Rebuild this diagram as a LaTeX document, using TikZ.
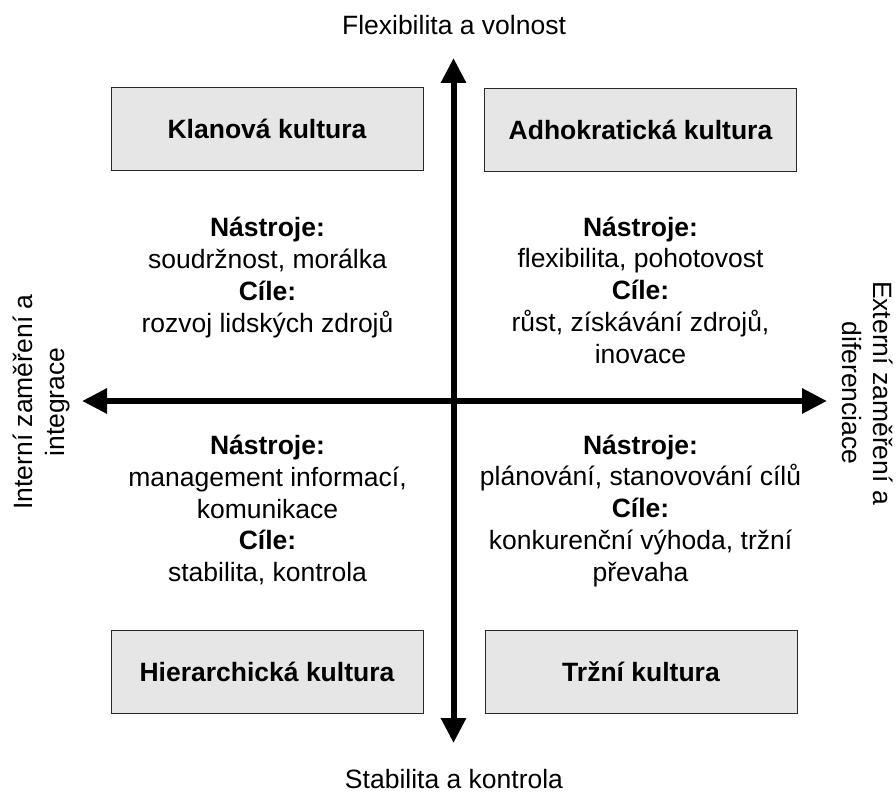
\documentclass[tikz,border=0pt]{standalone}
\usepackage{fontspec}
\setmainfont{Liberation Sans}
\usetikzlibrary{arrows.meta}
\definecolor{boxfill}{RGB}{230,230,230}
\definecolor{boxline}{RGB}{40,40,40}
\begin{document}
\begin{tikzpicture}[x=1pt,y=-1pt,
  every node/.style={inner sep=0pt, outer sep=0pt},
  % anchor=base sits on the baseline of the last line of a multi-line text
  txt/.style={font=\fontsize{26.5}{31.7}\selectfont, align=center, anchor=base},
  culture/.style={draw=boxline, line width=1pt, fill=boxfill, minimum width=312pt,
    minimum height=83pt, text height=19pt, text depth=0pt,
    font=\fontsize{26.5}{31.7}\selectfont\bfseries},
  axis/.style={line width=6pt, {Triangle[length=25pt,width=24pt]}-{Triangle[length=25pt,width=24pt]}}]
\useasboundingbox (0,0) rectangle (896,794);

% axes
\coordinate (top) at (453.5,58);
\coordinate (bottom) at (453.5,743);
\coordinate (left) at (82,401);
\coordinate (right) at (827,401);
\draw[axis] (bottom) -- (top);
\draw[axis] (left) -- (right);

% axis labels
\node[txt] (flex) at (454,35) {Flexibilita a volnost};
\node[txt] (stab) at (454,788) {Stabilita a kontrola};
\node[txt, rotate=90] (intern) at (64,402) {Interní zaměření a\\integrace};
\node[txt, rotate=-90] (extern) at (842,393) {Externí zaměření a\\diferenciace};

% culture boxes
\node[culture] (clan) at (267,129.5) {Klanová kultura};
\node[culture] (adhoc) at (640.5,130) {Adhokratická kultura};
\node[culture] (hier) at (267,672) {Hierarchická kultura};
\node[culture] (market) at (641,672) {Tržní kultura};

% quadrant descriptions
\node[txt] (clantxt) at (267.5,332)
  {\textbf{Nástroje:}\\soudržnost, morálka\\\textbf{Cíle:}\\rozvoj lidských zdrojů};
\node[txt] (adhoctxt) at (640.5,363)
  {\textbf{Nástroje:}\\flexibilita, pohotovost\\\textbf{Cíle:}\\růst, získávání zdrojů,\\inovace};
\node[txt] (hiertxt) at (267.5,581.5)
  {\textbf{Nástroje:}\\management informací,\\komunikace\\\textbf{Cíle:}\\stabilita, kontrola};
\node[txt] (markettxt) at (640.5,581)
  {\textbf{Nástroje:}\\plánování, stanovování cílů\\\textbf{Cíle:}\\konkurenční výhoda, tržní\\převaha};
\end{tikzpicture}
\end{document}
